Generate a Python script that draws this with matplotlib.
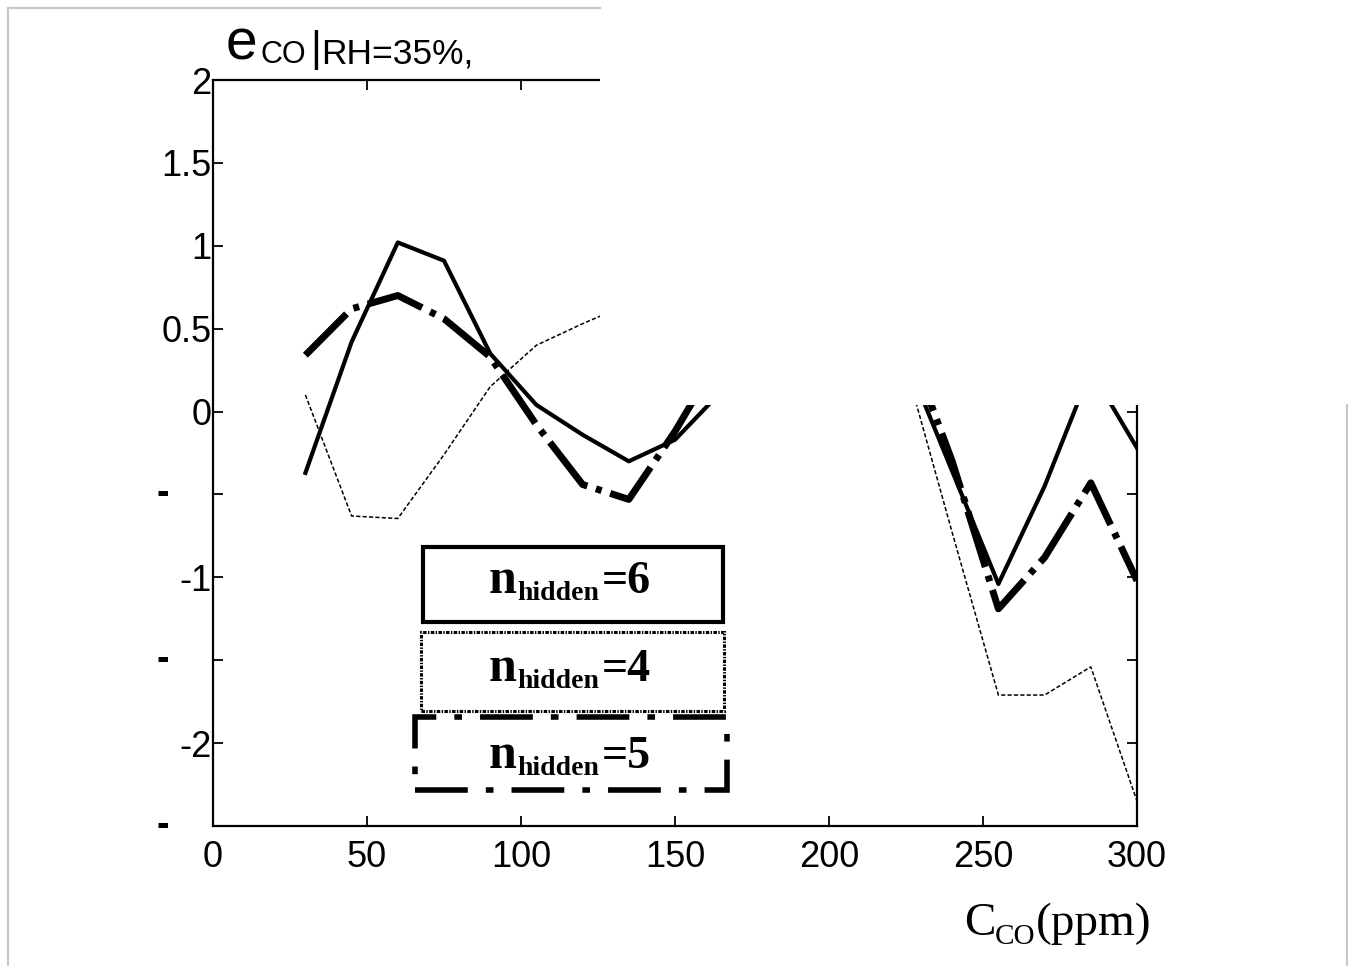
import matplotlib
matplotlib.use('Agg')
import matplotlib.pyplot as plt
from matplotlib.transforms import IdentityTransform, blended_transform_factory
from matplotlib.patches import Rectangle
from matplotlib.lines import Line2D

plt.rcParams['lines.scale_dashes'] = False
plt.rcParams['font.family'] = ['Liberation Sans', 'DejaVu Sans']

# ---------------- data ----------------
conc = [30, 45, 60, 75, 90, 105, 120, 135, 150, 165, 180, 195, 210, 225, 240, 255, 270, 285, 300]
e_h6 = [-0.37, 0.42, 1.02, 0.91, 0.35, 0.04, -0.14, -0.30, -0.17, 0.12, 0.6, 0.9, 0.9, 0.32, -0.36, -1.04, -0.45, 0.25, -0.22]
e_h4 = [0.10, -0.63, -0.645, -0.26, 0.15, 0.40, 0.53, 0.65, 0.8, 1.0, 1.1, 1.0, 0.8, 0.27, -0.73, -1.71, -1.71, -1.54, -2.35]
e_h5 = [0.34, 0.62, 0.70, 0.56, 0.33, -0.08, -0.44, -0.53, -0.12, 0.35, 0.8, 1.0, 0.9, 0.45, -0.30, -1.19, -0.88, -0.43, -1.02]

xticks = [0, 50, 100, 150, 200, 250, 300]
yticks = [-2.5, -2, -1.5, -1, -0.5, 0, 0.5, 1, 1.5, 2]
ytick_labels = ['', '-2', '', '-1', '', '0', '0.5', '1', '1.5', '2']
cut_ticks = [-2.5, -1.5, -0.5]          # labels that show only a dash
legend_labels = ['6', '4', '5']

# ---------------- figure ----------------
W, H = 1351, 966
fig = plt.figure(figsize=(W / 100, H / 100), dpi=100)
fig.patch.set_facecolor('white')

def fx(px):
    return px / W

def fy(py):
    return 1 - py / H

ax = fig.add_axes([fx(213), fy(826), fx(1137) - fx(213), fy(80) - fy(826)])

ax.plot(conc, e_h4, color='black', lw=1.1, ls=(0, (3, 1.6)), zorder=2)
ax.plot(conc, e_h6, color='black', lw=3.0, zorder=3)
ax.plot(conc, e_h5, color='black', lw=5, ls=(0, (42, 6.5, 4.3, 6.5)),
        dash_capstyle='butt', zorder=4)

ax.set_xlim(0, 300)
ax.set_ylim(-2.5, 2)
ax.set_xticks(xticks)
ax.set_xticklabels([str(v) for v in xticks])
ax.set_yticks(yticks)
ax.set_yticklabels(ytick_labels)
ax.tick_params(direction='in', length=7, width=1.3, top=True, right=True,
               labelsize=26, colors='black')
ax.tick_params(axis='x', pad=10)
ax.tick_params(axis='y', pad=1)
for sp in ax.spines.values():
    sp.set_linewidth(1.6)

trans = blended_transform_factory(ax.transAxes, ax.transData)
for v in cut_ticks:
    ax.text((156 - 213) / 924, v, '-', transform=trans, ha='left', va='center',
            fontsize=27, weight='bold', clip_on=False)

# ---------------- scan mask and border ----------------
fig.patches.append(Rectangle((fx(600), fy(405)), 1 - fx(600), 1 - fy(405),
                             transform=fig.transFigure, facecolor='white',
                             edgecolor='none', zorder=100))
border = '#c8c8c8'
fig.lines.append(Line2D([fx(8), fx(8)], [fy(8), 0], transform=fig.transFigure,
                        color=border, lw=1.5, zorder=101))
fig.lines.append(Line2D([fx(8), fx(600)], [fy(8), fy(8)], transform=fig.transFigure,
                        color=border, lw=1.5, zorder=101))
fig.lines.append(Line2D([fx(1347), fx(1347)], [fy(405), 0], transform=fig.transFigure,
                        color=border, lw=1.5, zorder=101))

# ---------------- legend boxes ----------------
boxes = [
    ((423, 547, 723, 622), dict(lw=3.0, ls='-')),
    ((421, 632, 724, 711), dict(lw=2.2, ls=(0, (2.5, 1.0, 1.0, 1.0)))),
    ((415, 717, 727, 790), dict(lw=4.0, ls=(0, (38, 13, 5.5, 13)))),
]
for (x0, y0, x1, y1), st in boxes:
    fig.patches.append(Rectangle((fx(x0), fy(y1)), fx(x1) - fx(x0), fy(y0) - fy(y1),
                                 transform=fig.transFigure, facecolor='none',
                                 edgecolor='black', zorder=50, **st))

serif = ['Liberation Serif', 'DejaVu Serif']
sans = ['Liberation Sans', 'DejaVu Sans']

def ptext(x, base, s, size, family, weight='normal'):
    fig.text(x, H - base, s, transform=IdentityTransform(), fontsize=size,
             family=family, weight=weight, ha='left', va='baseline', zorder=110)

for lab, base in zip(legend_labels, [593, 681, 768]):
    ptext(489, base, 'n', 36, serif, 'bold')
    ptext(517, base + 7, 'hidden', 20, serif, 'bold')
    ptext(602, base, '=' + lab, 33, serif, 'bold')

# ---------------- title (y label) ----------------
ptext(226, 59, 'e', 41, sans)
ptext(261, 63, 'CO', 22, sans)
ptext(310, 61, '|', 30, sans)
ptext(321, 63, 'RH=35%,', 25.5, sans)

# ---------------- x label ----------------
ptext(964, 935, 'C', 34, serif)
ptext(995, 944, 'CO', 21, serif)
ptext(1036, 935, '(ppm)', 34, serif)

fig.savefig('out.png', dpi=100, facecolor='white')
